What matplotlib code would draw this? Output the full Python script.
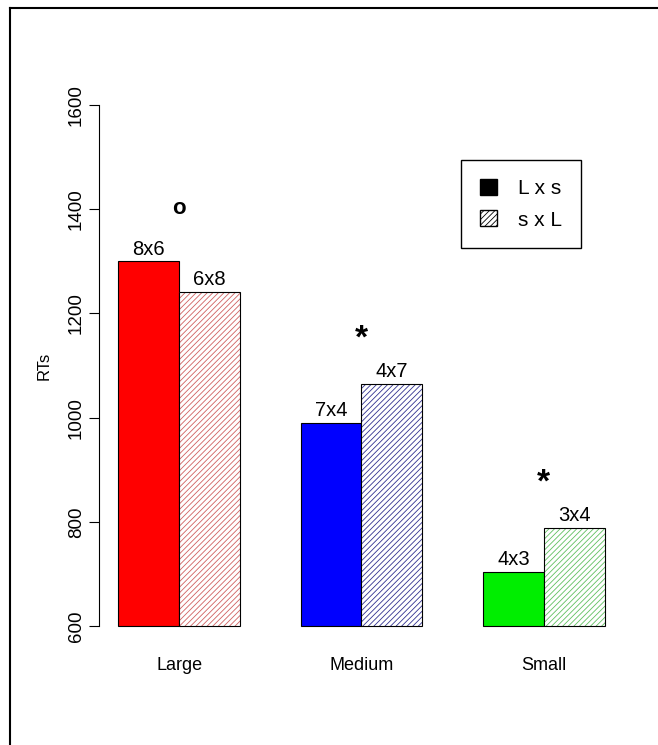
import matplotlib.pyplot as plt
from matplotlib.patches import Patch
from matplotlib.lines import Line2D

plt.rcParams['font.family'] = ['Liberation Sans', 'DejaVu Sans']
plt.rcParams['hatch.linewidth'] = 0.6

# mean RTs per size condition, order L x s (solid) then s x L (hatched)
sizes = ["Large", "Medium", "Small"]
rt_lxs = [1300, 990, 704]
rt_sxl = [1241, 1065, 788]
lab_lxs = ["8x6", "7x4", "4x3"]
lab_sxl = ["6x8", "4x7", "3x4"]
colors = ["#ff0000", "#0000ff", "#00ee00"]
hatch_colors = ["#d06060", "#303090", "#60c060"]
marks = ["o", "*", "*"]
mark_y = [1402, 1150, 875]

fig = plt.figure(figsize=(6.58, 7.45), dpi=100)
ax = fig.add_axes([99 / 658, 0.1318, 525 / 658, 0.755])

x_solid = [1.5, 4.5, 7.5]
x_hatch = [2.5, 5.5, 8.5]
base = 600

for i in range(3):
    ax.bar(x_solid[i], rt_lxs[i] - base, bottom=base, width=1,
           color=colors[i], edgecolor="black", linewidth=0.8)
    # hatch lines in the group colour, then a black outline on top
    ax.bar(x_hatch[i], rt_sxl[i] - base, bottom=base, width=1,
           facecolor="white", edgecolor=hatch_colors[i], linewidth=0, hatch="//////")
    ax.bar(x_hatch[i], rt_sxl[i] - base, bottom=base, width=1,
           fill=False, edgecolor="black", linewidth=0.8)
    ax.annotate(lab_lxs[i], (x_solid[i], rt_lxs[i]), xytext=(0, 2),
                textcoords="offset points", ha="center", va="bottom", fontsize=14.5)
    ax.annotate(lab_sxl[i], (x_hatch[i], rt_sxl[i]), xytext=(0, 2),
                textcoords="offset points", ha="center", va="bottom", fontsize=14.5)
    ax.text(x_hatch[i] - 0.5, mark_y[i], marks[i], ha="center", va="center",
            fontsize=24 if marks[i] == "*" else 16, fontweight="bold")

ax.set_xlim(0.68, 9.32)
ax.set_ylim(560, 1640)

for s in ["top", "right", "bottom"]:
    ax.spines[s].set_visible(False)
ax.spines["left"].set_bounds(600, 1600)
ax.set_yticks([600, 800, 1000, 1200, 1400, 1600])
ax.tick_params(axis="y", length=7, width=0.8, pad=3, labelsize=13.5, labelrotation=90)
for t in ax.get_yticklabels():
    t.set_va("center")
ax.set_xticks([])
for i in range(3):
    ax.text(x_hatch[i] - 0.5, 525, sizes[i], ha="center", va="center", fontsize=13)
ax.set_ylabel("RTs", fontsize=12, labelpad=12)

handles = [Patch(facecolor="black", edgecolor="black"),
           Patch(facecolor="white", edgecolor="black", hatch="//////")]
leg = ax.legend(handles, ["L x s", "s x L"], loc="upper left",
                bbox_to_anchor=(461 / 658, 1 - 160 / 745), bbox_transform=fig.transFigure,
                fancybox=False, framealpha=1, edgecolor="black", fontsize=15,
                handlelength=0.85, handleheight=0.8, handletextpad=1.0,
                borderpad=0.9, labelspacing=0.6, borderaxespad=0)
leg.get_frame().set_linewidth(1.0)

# outer frame (left and top edges)
fig.add_artist(Line2D([9.5 / 658, 9.5 / 658], [0, 1 - 7.5 / 745], color="black", lw=1.5))
fig.add_artist(Line2D([9.5 / 658, 1], [1 - 7.5 / 745, 1 - 7.5 / 745], color="black", lw=1.5))

fig.savefig("out.png", dpi=100)
